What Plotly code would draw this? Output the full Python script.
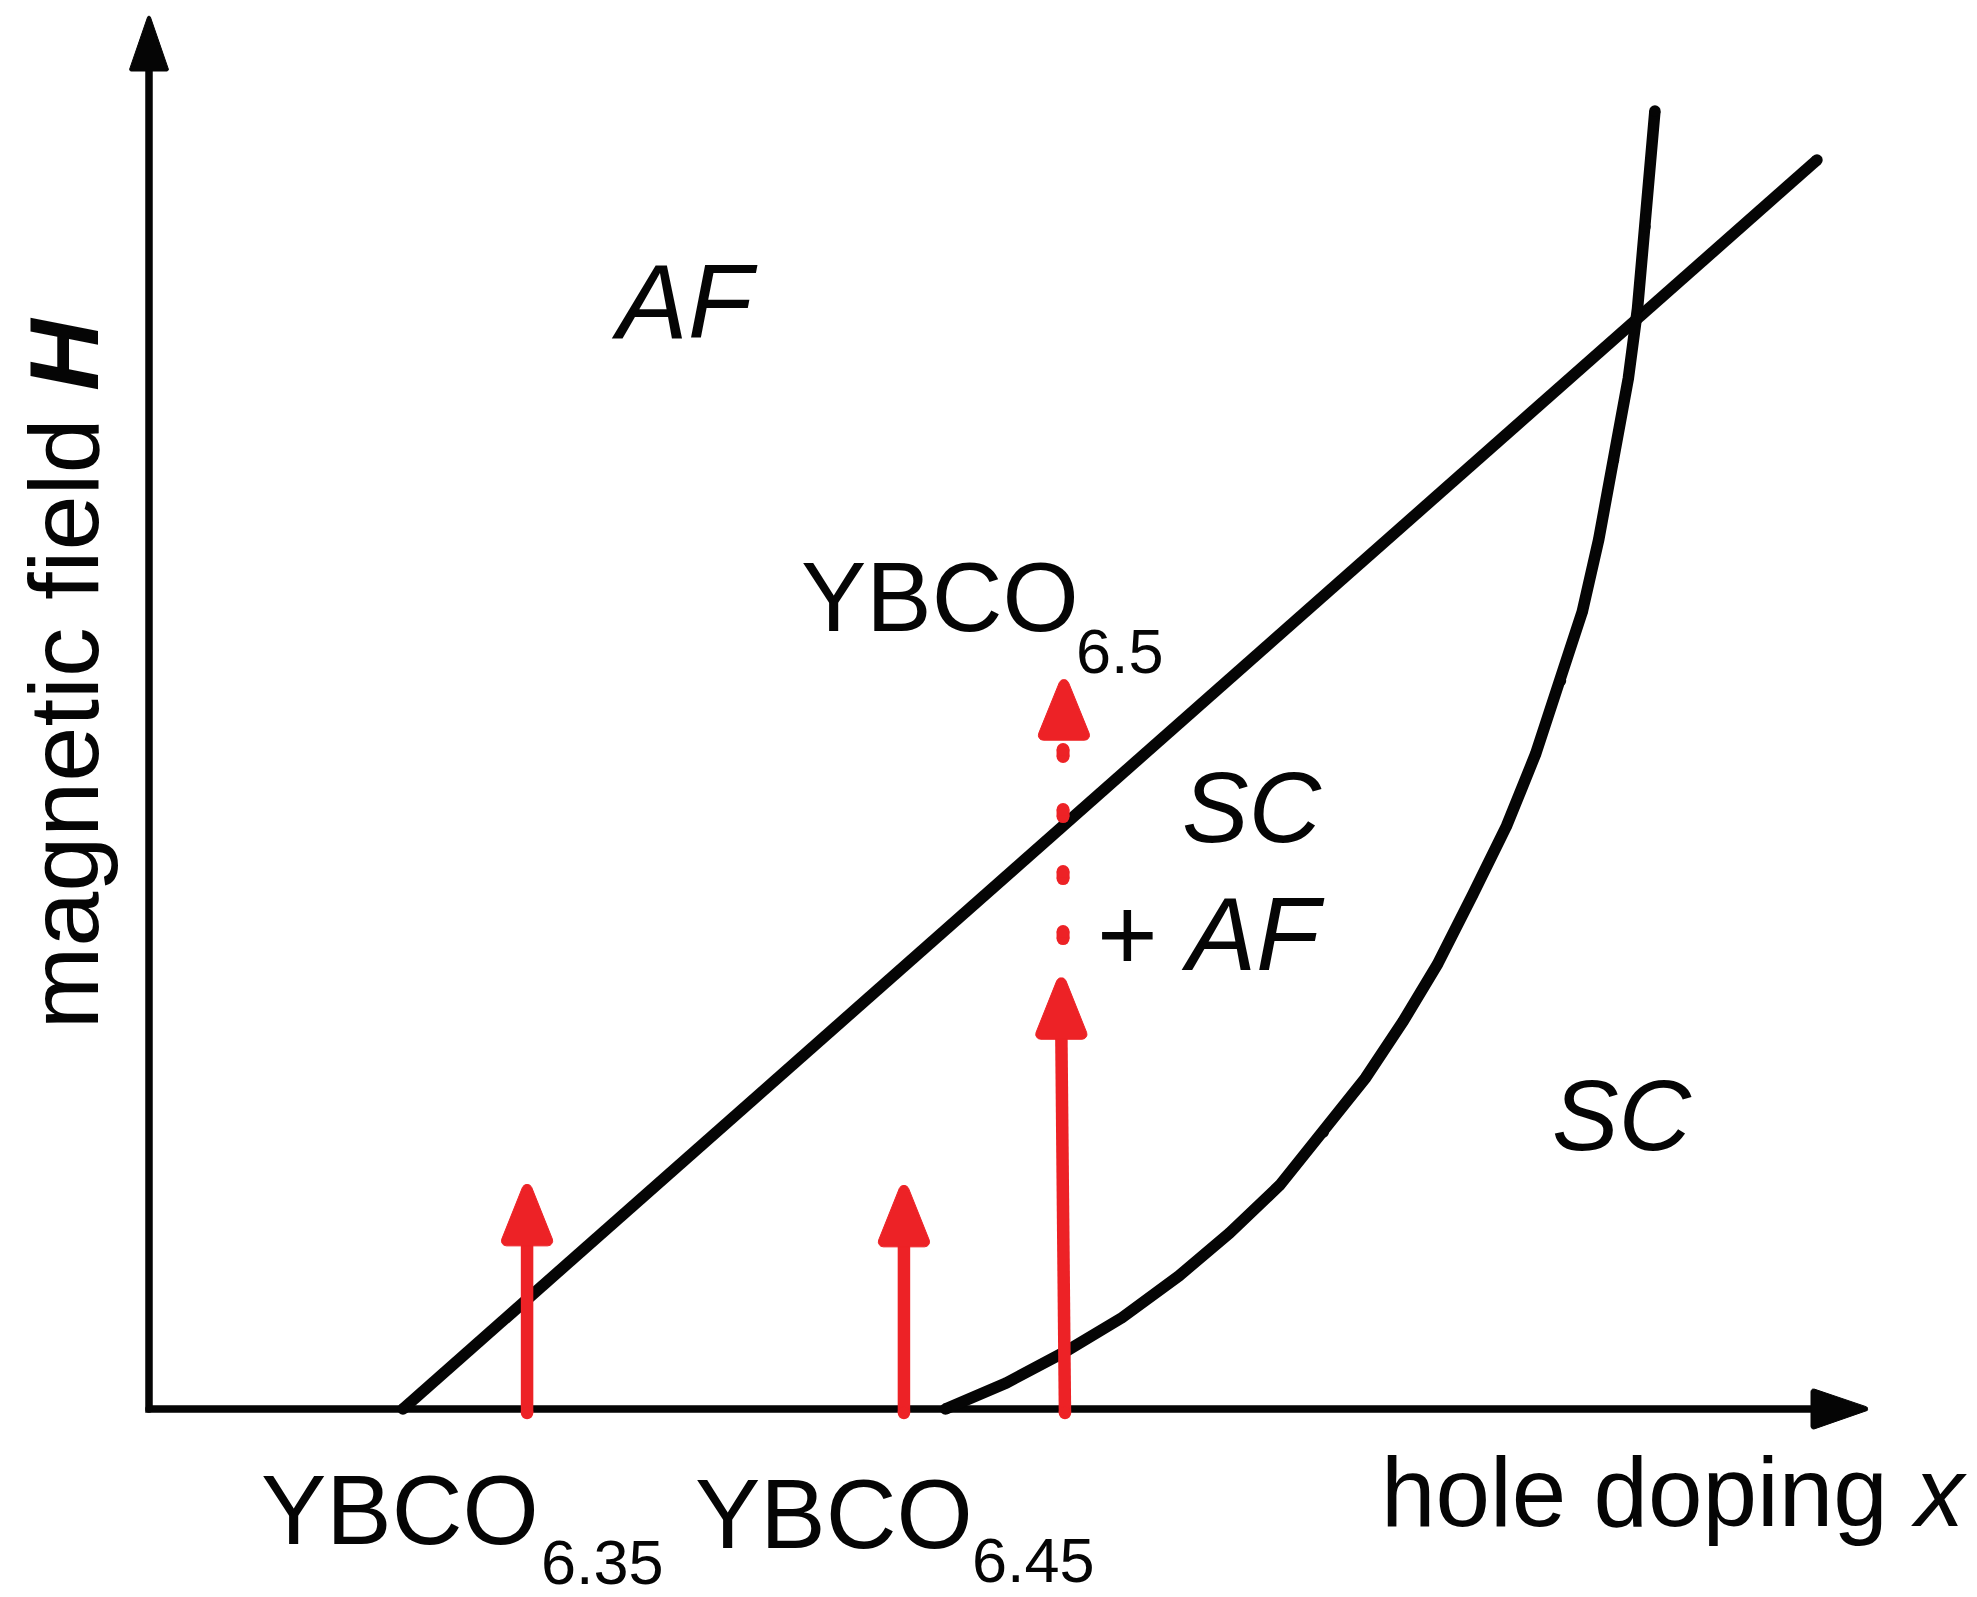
import math
import plotly.graph_objects as go

# ---------------- data (schematic units: hole doping x, magnetic field H) ----------------
# boundary between AF and SC+AF (straight line)
af_line_x = [0.1473, 0.9675]
af_line_H = [0.0, 0.8947]

# boundary between SC+AF and SC (curve)
sc_curve_x = [0.462, 0.4972, 0.5315, 0.5645, 0.5974, 0.6267, 0.6559, 0.6814, 0.7056,
              0.7275, 0.7473, 0.7677, 0.7875, 0.8043, 0.8190, 0.8314, 0.8409, 0.8497,
              0.8581, 0.8634, 0.8680, 0.8735]
sc_curve_H = [0.0, 0.0186, 0.0411, 0.0655, 0.0953, 0.1260, 0.1603, 0.1983, 0.2371,
              0.2778, 0.3184, 0.3681, 0.4178, 0.4692, 0.5216, 0.5713, 0.6228, 0.6797,
              0.7384, 0.7881, 0.8468, 0.9298]

# samples (red field-sweep arrows)
sample_names = ["6.35", "6.45", "6.5"]
arrow_x_base = [0.2193, 0.4379, 0.5313]
arrow_x_head = [0.2193, 0.4379, 0.5292]
arrow_tip_H = [0.1670, 0.1663, 0.3150]

# dotted continuation of the YBCO6.5 arrow
dotted_x = 0.5302
dotted_dots_H = [0.3395, 0.3825, 0.4269, 0.4699]
upper_tip_H = 0.5285

# ---------------- geometry / style ----------------
W, H_PX = 1977, 1597
PX = 1724.0   # pixels per unit of x
PY = 1396.0   # pixels per unit of H
X_RANGE = [-149 / PX, (W - 149) / PX]
Y_RANGE = [-(H_PX - 1409) / PY, 1409 / PY]

RED = "#ED2226"
BLACK = "#050505"
FONT = "Liberation Sans, Arial, Helvetica, sans-serif"


def rounded_poly(verts, r, n=8):
    m = len(verts)
    normals = []
    for i in range(m):
        ax, ay = verts[i]
        bx, by = verts[(i + 1) % m]
        dx, dy = bx - ax, by - ay
        L = math.hypot(dx, dy)
        normals.append((dy / L, -dx / L))
    inset = []
    for i in range(m):
        n1 = normals[i - 1]
        n2 = normals[i]
        dot = n1[0] * n2[0] + n1[1] * n2[1]
        k = r / (1 + dot)
        inset.append((verts[i][0] - k * (n1[0] + n2[0]), verts[i][1] - k * (n1[1] + n2[1])))
    pts = []
    for i in range(m):
        n1 = normals[i - 1]
        n2 = normals[i]
        a1 = math.atan2(n1[1], n1[0])
        a2 = math.atan2(n2[1], n2[0])
        while a2 < a1:
            a2 += 2 * math.pi
        for j in range(n + 1):
            a = a1 + (a2 - a1) * j / n
            pts.append((inset[i][0] + r * math.cos(a), inset[i][1] + r * math.sin(a)))
    pts.append(pts[0])
    return [p[0] / PX for p in pts], [p[1] / PY for p in pts]


def head_up(x, tipH, length_px, hw_px, r):
    cx, ty = x * PX, tipH * PY
    by = ty - length_px
    return rounded_poly([(cx - hw_px, by), (cx + hw_px, by), (cx, ty)], r)


def head_right(tipx, H, length_px, hw_px, r):
    tx, cy = tipx * PX, H * PY
    bx = tx - length_px
    return rounded_poly([(bx, cy - hw_px), (tx, cy), (bx, cy + hw_px)], r)


def poly_trace(xs, ys, color):
    return go.Scatter(x=xs, y=ys, mode="lines", fill="toself", fillcolor=color,
                      line=dict(color=color, width=1), hoverinfo="skip")


fig = go.Figure()

# ---------------- axes (drawn as arrows) ----------------
Y_HEAD_LEN, Y_HEAD_HW = 58, 20
X_HEAD_LEN, X_HEAD_HW = 62, 21
AXIS_W = 7.5
fig.add_trace(go.Scatter(x=[0, 0, 1.0 - (X_HEAD_LEN - 4) / PX],
                         y=[1.0 - (Y_HEAD_LEN - 4) / PY, 0, 0],
                         mode="lines", line=dict(color=BLACK, width=AXIS_W), hoverinfo="skip"))
fig.add_trace(go.Scatter(x=[0], y=[0], mode="markers",
                         marker=dict(color=BLACK, size=AXIS_W, line=dict(width=0)),
                         hoverinfo="skip"))
xs, ys = head_up(0, 1.0, Y_HEAD_LEN, Y_HEAD_HW, 1.5)
fig.add_trace(poly_trace(xs, ys, BLACK))
xs, ys = head_right(1.0, 0, X_HEAD_LEN, X_HEAD_HW, 2.5)
fig.add_trace(poly_trace(xs, ys, BLACK))

# ---------------- phase boundaries ----------------
LW = 11.5
fig.add_trace(go.Scatter(x=af_line_x, y=af_line_H, mode="lines",
                         line=dict(color=BLACK, width=LW), hoverinfo="skip"))
fig.add_trace(go.Scatter(x=sc_curve_x, y=sc_curve_H, mode="lines",
                         line=dict(color=BLACK, width=LW), hoverinfo="skip"))
for bx, by in [(af_line_x, af_line_H), (sc_curve_x, sc_curve_H)]:
    fig.add_trace(go.Scatter(x=[bx[0], bx[-1]], y=[by[0], by[-1]], mode="markers",
                             marker=dict(color=BLACK, size=LW, line=dict(width=0)),
                             hoverinfo="skip"))
# round joins along the curve
fig.add_trace(go.Scatter(x=sc_curve_x[1:-1], y=sc_curve_H[1:-1], mode="markers",
                         marker=dict(color=BLACK, size=LW - 1, line=dict(width=0)),
                         hoverinfo="skip"))

# ---------------- red arrows ----------------
HEAD_LEN, HEAD_HW, HEAD_R = 70, 28, 5
SHAFT_W = 12.5
bottom_H = -4 / PY
for xb, xh, tip in zip(arrow_x_base, arrow_x_head, arrow_tip_H):
    base_H = tip - (HEAD_LEN - 6) / PY
    fig.add_trace(go.Scatter(x=[xb, xh], y=[bottom_H, base_H], mode="lines",
                             line=dict(color=RED, width=SHAFT_W), hoverinfo="skip"))
    fig.add_trace(go.Scatter(x=[xb], y=[bottom_H], mode="markers",
                             marker=dict(color=RED, size=SHAFT_W, line=dict(width=0)),
                             hoverinfo="skip"))
    xs, ys = head_up(xh, tip, HEAD_LEN, HEAD_HW, HEAD_R)
    fig.add_trace(poly_trace(xs, ys, RED))

# dotted continuation + upper head (YBCO6.5)
DOT_W = 13
for c in dotted_dots_H:
    fig.add_trace(go.Scatter(x=[dotted_x, dotted_x], y=[c - 3.5 / PY, c + 3.5 / PY],
                             mode="lines+markers",
                             line=dict(color=RED, width=DOT_W),
                             marker=dict(color=RED, size=DOT_W, line=dict(width=0)),
                             hoverinfo="skip"))
xs, ys = head_up(dotted_x + 0.0005, upper_tip_H, HEAD_LEN - 1, HEAD_HW, HEAD_R)
fig.add_trace(poly_trace(xs, ys, RED))

# ---------------- text ----------------
def ann(text, x, y, size, xanchor="center", yanchor="middle", angle=0):
    return dict(text=text, x=x, y=y, xref="x", yref="y", showarrow=False,
                xanchor=xanchor, yanchor=yanchor, textangle=angle, borderpad=0,
                font=dict(family=FONT, size=size, color=BLACK))

MAIN = 98
SUB = 63
annotations = [
    ann("<i>AF</i>", 0.3109, 0.7937, 106),
    ann("<i>SC</i>", 0.6398, 0.4312, 100),
    ann("+ <i>AF</i>", 0.6160, 0.3403, 104),
    ann("<i>SC</i>", 0.8544, 0.2106, 100),
    # sample labels
    ann("YBCO", 0.0655 - 2 / PX, -0.0723, MAIN, xanchor="left"),
    ann(sample_names[0], 0.2268, -0.1114 + 3 / PY, SUB, xanchor="left"),
    ann("YBCO", 0.3173 - 2 / PX, -0.0749, MAIN, xanchor="left"),
    ann(sample_names[1], 0.4768, -0.1150 + 10 / PY, SUB, xanchor="left"),
    ann("YBCO", 0.3776, 0.5817, MAIN, xanchor="left"),
    ann(sample_names[2], 0.5371, 0.5433, SUB, xanchor="left"),
    # axis titles
    ann("hole doping <i>x</i>", 0.7140, -0.0595, MAIN, xanchor="left"),
    ann("magnetic field <b><i>H</i></b>", -0.0499, 0.5270, 99, angle=-90),
]

fig.update_layout(
    width=W, height=H_PX, autosize=False,
    margin=dict(l=0, r=0, t=0, b=0, pad=0),
    paper_bgcolor="white", plot_bgcolor="white",
    showlegend=False,
    xaxis=dict(range=X_RANGE, visible=False, fixedrange=True),
    yaxis=dict(range=Y_RANGE, visible=False, fixedrange=True),
    annotations=annotations,
)

fig.write_html("out.html", config={"displayModeBar": False},
               post_script="document.body.style.margin='0';document.body.style.overflow='hidden';")
